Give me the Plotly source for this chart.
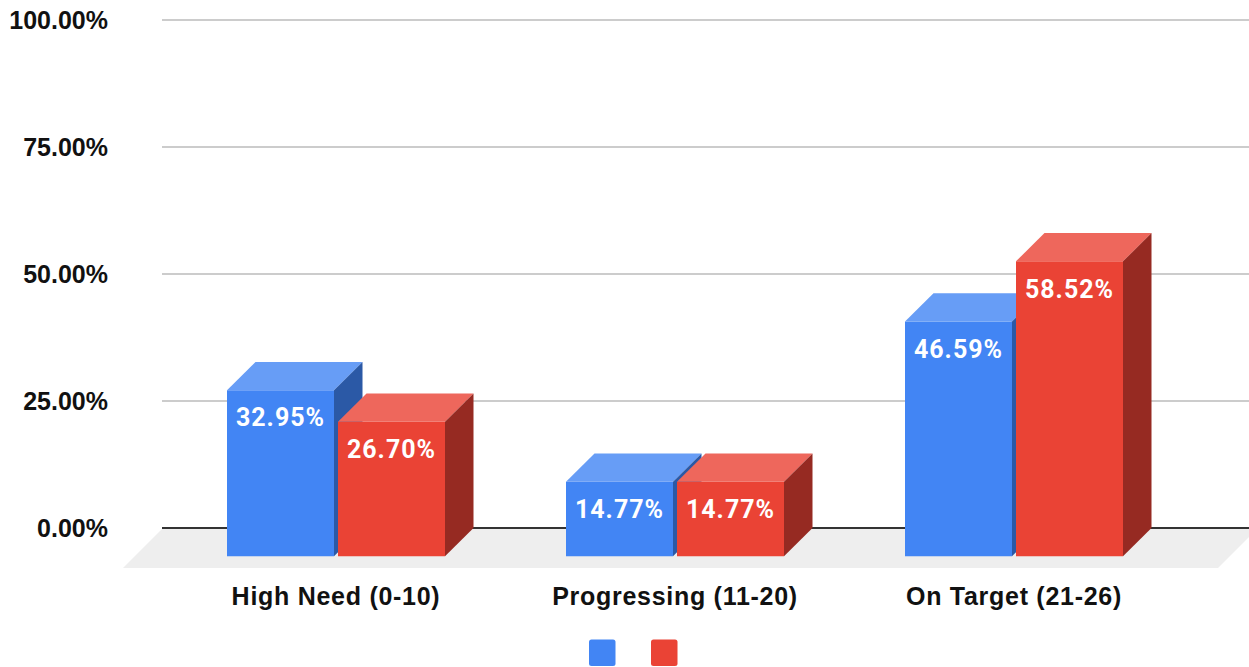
import plotly.graph_objects as go

categories = ["High Need (0-10)", "Progressing (11-20)", "On Target (21-26)"]
blue_values = [32.95, 14.77, 46.59]
red_values = [26.70, 14.77, 58.52]
y_ticks = [0, 25, 50, 75, 100]
y_tick_labels = ["0.00%", "25.00%", "50.00%", "75.00%", "100.00%"]

W, H = 1249, 667
L, R, T, B = 162, 1249, 10, 569          # plot area in pixels
PX_Y = 5.08                              # pixels per axis unit
ZERO_PX = 528
PX_X = 339.0
CENTER0 = 336

y_top = (ZERO_PX - T) / PX_Y
y_bot = (ZERO_PX - B) / PX_Y
x_lo = (L - CENTER0) / PX_X
x_hi = (R - CENTER0) / PX_X

BAR_W = 107 / PX_X
OFFSET = 55.5 / PX_X
DEPTH_X = 28.5 / PX_X
DEPTH_Y = 28.3 / PX_Y
FORE = 5.04 / 5.08                       # bars are very slightly foreshortened
LABEL_DROP = 30 / PX_Y

FONT = "Liberation Sans"
INK = "#111111"


def px(x):
    return (x - L) / (R - L)


def py(y):
    return (B - y) / (B - T)


def faces(xc, v):
    """Top and side polygons of a 3D bar whose front sits at xc."""
    x0, x1 = xc - BAR_W / 2, xc + BAR_W / 2
    yb = -DEPTH_Y
    yt = v * FORE - DEPTH_Y
    top = ([x0, x1, x1 + DEPTH_X, x0 + DEPTH_X, x0],
           [yt, yt, yt + DEPTH_Y, yt + DEPTH_Y, yt])
    side = ([x1, x1 + DEPTH_X, x1 + DEPTH_X, x1, x1],
            [yb, yb + DEPTH_Y, yt + DEPTH_Y, yt, yb])
    return top, side


def add_series(fig, values, shift, front, top_c, side_c, xa, ya, name):
    xs = [i + shift for i in range(len(values))]
    fig.add_trace(go.Bar(x=xs, y=[v * FORE for v in values], base=-DEPTH_Y, width=BAR_W,
                         marker=dict(color=front, line=dict(width=0)), name=name,
                         xaxis=xa, yaxis=ya, showlegend=False, hoverinfo="skip"))
    for xc, v in zip(xs, values):
        t, s = faces(xc, v)
        for (px_, py_), c in (((t[0], t[1]), top_c), ((s[0], s[1]), side_c)):
            fig.add_trace(go.Scatter(x=px_, y=py_, mode="lines", fill="toself", fillcolor=c,
                                     line=dict(width=0, color=c), xaxis=xa, yaxis=ya,
                                     showlegend=False, hoverinfo="skip"))
    fig.add_trace(go.Scatter(x=xs, y=[v * FORE - DEPTH_Y - LABEL_DROP for v in values],
                             mode="text", text=[f"{v:.2f}%" for v in values],
                             textposition="middle center",
                             textfont=dict(family="Roboto", size=25, color="white", weight="bold"),
                             xaxis=xa, yaxis=ya, showlegend=False, hoverinfo="skip"))


fig = go.Figure()
add_series(fig, blue_values, -OFFSET, "#4285F4", "#679DF6", "#2B59A6", "x", "y", "Series 1")
add_series(fig, red_values, OFFSET, "#EA4335", "#EE675C", "#962A22", "x2", "y2", "Series 2")

floor_path = (f"M {px(162)} {py(529)} L {px(1257)} {py(529)} L {px(1218)} {py(568)} "
              f"L {px(123)} {py(568)} Z")
shapes = [dict(type="path", path=floor_path, xref="paper", yref="paper",
               fillcolor="#EEEEEE", line=dict(width=0), layer="below")]


def rounded(x0, y0, x1, y1, r, color):
    a0, a1 = px(x0), px(x1)
    b0, b1 = py(y0), py(y1)
    rx, ry = r / (R - L), r / (B - T)
    d = (f"M {a0 + rx} {b0} L {a1 - rx} {b0} Q {a1} {b0} {a1} {b0 - ry} "
         f"L {a1} {b1 + ry} Q {a1} {b1} {a1 - rx} {b1} L {a0 + rx} {b1} "
         f"Q {a0} {b1} {a0} {b1 + ry} L {a0} {b0 - ry} Q {a0} {b0} {a0 + rx} {b0} Z")
    return dict(type="path", path=d, xref="paper", yref="paper",
                fillcolor=color, line=dict(width=0))


shapes.append(rounded(589, 639.5, 615.5, 666, 2.5, "#4285F4"))
shapes.append(rounded(651, 639.5, 677.5, 666, 2.5, "#EA4335"))

tick_font = dict(family=FONT, size=25, color=INK, weight="bold")
fig.update_layout(
    width=W, height=H, autosize=False,
    margin=dict(l=L, r=W - R, t=T, b=H - B, autoexpand=False),
    paper_bgcolor="white", plot_bgcolor="rgba(0,0,0,0)",
    barmode="overlay", showlegend=False, shapes=shapes,
    xaxis=dict(range=[x_lo, x_hi], tickmode="array", tickvals=[0, 1, 2], ticktext=categories,
               tickfont=tick_font, showgrid=False, zeroline=False, showline=False,
               ticks="", ticklabelstandoff=10, fixedrange=True),
    yaxis=dict(range=[y_bot, y_top], tickmode="array", tickvals=y_ticks, ticktext=y_tick_labels,
               tickfont=tick_font, showgrid=True, gridcolor="#CCCCCC", gridwidth=2,
               zeroline=True, zerolinecolor="#333333", zerolinewidth=2, showline=False,
               ticks="", ticklabelstandoff=53, fixedrange=True),
    xaxis2=dict(range=[x_lo, x_hi], overlaying="x", visible=False, fixedrange=True),
    yaxis2=dict(range=[y_bot, y_top], overlaying="y", visible=False, fixedrange=True),
)

post = """
document.body.style.margin='0';document.body.style.overflow='hidden';
document.querySelectorAll('.xtick text').forEach(function(t){t.style.letterSpacing='0.72px';});
document.querySelectorAll('.textpoint text').forEach(function(t){t.style.letterSpacing='1px';});
"""
fig.write_html("out.html", config=dict(displayModeBar=False), post_script=post)
